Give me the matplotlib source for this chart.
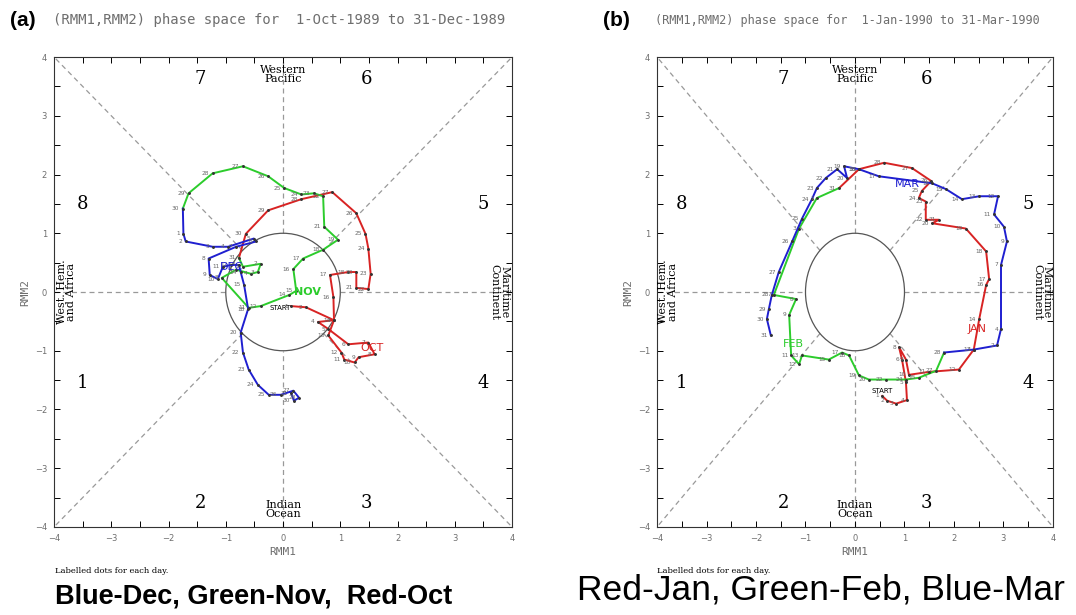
import matplotlib.pyplot as plt
import numpy as np
from matplotlib.patches import Ellipse

# ---- panel (a): Oct-Dec 1989 ----
oct_rmm1 = [0.14, 0.40, 0.89, 0.61, 0.79, 1.14, 1.49, 1.60, 1.32, 1.25, 1.07, 1.02, 0.79, 0.89,
            0.88, 0.82, 1.14, 1.28, 1.28, 1.49, 1.53, 1.49, 1.44, 1.28, 0.86, 0.32, -0.26, -0.65, -0.77]
oct_rmm2 = [-0.24, -0.26, -0.48, -0.51, -0.63, -0.89, -0.86, -1.06, -1.11, -1.20, -1.15, -1.03, -0.74, -0.48,
            -0.09, 0.29, 0.34, 0.34, 0.07, 0.05, 0.31, 0.74, 0.99, 1.34, 1.70, 1.58, 1.39, 0.99, 0.58]
oct_days = [1, 2, 3, 4, 5, 6, 7, 8, 9, 10, 11, 12, 13, 14, 16, 17, 18, 20, 21, 22, 23, 24, 25, 26,
            27, 28, 29, 30, 31]

nov_rmm1 = [-0.70, -0.39, -0.44, -0.56, -0.82, -1.07, -0.60, -0.39, 0.11, 0.23, 0.18, 0.35, 0.70, 0.96,
            0.72, 0.70, 0.54, 0.32, 0.02, -0.26, -0.70, -1.23, -1.65, -1.75]
nov_rmm2 = [0.43, 0.48, 0.34, 0.31, 0.38, 0.24, -0.27, -0.24, -0.05, 0.02, 0.39, 0.57, 0.72, 0.89,
            1.11, 1.63, 1.68, 1.66, 1.77, 1.97, 2.14, 2.02, 1.68, 1.42]
nov_days = [1, 2, 3, 4, 5, 8, 11, 12, 14, 15, 16, 17, 18, 19, 21, 22, 23, 24, 25, 26, 27, 28, 29, 30]

dec_rmm1 = [-1.74, -1.70, -1.23, -0.96, -0.51, -0.47, -0.82, -1.30, -1.28, -1.14, -1.05, -0.91, -0.77,
            -0.74, -0.68, -0.61, -0.74, -0.70, -0.60, -0.44, -0.25, -0.04, 0.18, 0.28, 0.19, 0.14]
dec_rmm2 = [0.99, 0.86, 0.77, 0.77, 0.91, 0.86, 0.77, 0.57, 0.29, 0.22, 0.43, 0.46, 0.46,
            0.34, 0.12, -0.29, -0.69, -1.03, -1.32, -1.58, -1.75, -1.75, -1.68, -1.80, -1.85, -1.72]
dec_days = [1, 2, 3, 4, 5, 6, 7, 8, 9, 10, 11, 12, 13, 14, 15, 18, 20, 22, 23, 24, 25, 26, 27, 28, 30, 31]

# ---- panel (b): Jan-Mar 1990 ----
jan_rmm1 = [0.55, 0.65, 0.83, 1.05, 1.03, 0.95, 0.89, 1.03, 1.09, 1.49, 2.10, 2.40, 2.51, 2.65,
            2.71, 2.65, 2.24, 1.56, 1.70, 1.43, 1.43, 1.29, 1.35, 1.54, 1.15, 0.59, 0.08, -0.32]
jan_rmm2 = [-1.77, -1.85, -1.90, -1.84, -1.54, -1.15, -0.94, -1.15, -1.41, -1.36, -1.32, -0.98, -0.46, 0.12,
            0.22, 0.69, 1.08, 1.17, 1.23, 1.23, 1.54, 1.60, 1.72, 1.89, 2.11, 2.20, 2.09, 1.77]
jan_days = [1, 2, 3, 4, 5, 6, 8, 9, 10, 11, 12, 13, 14, 16, 17, 18, 19, 20, 21, 22, 23, 24, 25, 26,
            27, 28, 30, 31]

feb_rmm1 = [-0.77, -1.13, -1.64, -1.19, -1.33, -1.29, -1.13, -1.07, -0.53, -0.26, -0.12, 0.08, 0.28,
            0.63, 1.03, 1.29, 1.64, 1.80]
feb_rmm2 = [1.60, 1.08, -0.05, -0.12, -0.39, -1.08, -1.23, -1.08, -1.15, -1.03, -1.08, -1.42, -1.49,
            -1.49, -1.49, -1.46, -1.34, -1.03]
feb_days = [1, 3, 7, 8, 9, 11, 12, 13, 15, 17, 18, 19, 20, 22, 24, 25, 27, 28]

mar_rmm1 = [2.40, 2.87, 2.95, 2.95, 3.07, 3.01, 2.81, 2.89, 2.51, 2.16, 1.84, 1.56, 0.48, 0.08,
            -0.22, -0.16, -0.36, -0.59, -0.77, -0.87, -1.07, -1.27, -1.54, -1.68, -1.74, -1.78, -1.70]
mar_rmm2 = [-0.98, -0.91, -0.63, 0.46, 0.86, 1.11, 1.32, 1.63, 1.63, 1.58, 1.75, 1.85, 1.97, 2.09,
            2.14, 1.94, 2.09, 1.94, 1.77, 1.58, 1.25, 0.86, 0.34, -0.05, -0.29, -0.46, -0.74]
mar_days = [1, 2, 4, 7, 9, 10, 11, 12, 13, 14, 15, 16, 17, 18, 19, 20, 21, 22, 23, 24, 25, 26, 27,
            28, 29, 30, 31]

RED = '#d82323'
GREEN = '#2ccc2c'
BLUE = '#1f1fd0'
GRAY = '#6e6e6e'


def draw_background(ax):
    # dashed phase dividers, stopping at the unit circle
    dk = dict(color='#999999', lw=0.9, ls=(0, (4, 3)), zorder=1)
    ax.plot([0, 0], [1, 4], **dk)
    ax.plot([0, 0], [-4, -1], **dk)
    ax.plot([1, 4], [0, 0], **dk)
    ax.plot([-4, -1], [0, 0], **dk)
    r = np.sqrt(0.5)
    for sx in (-1, 1):
        for sy in (-1, 1):
            ax.plot([sx * r, sx * 4], [sy * r, sy * 4], **dk)
    ax.add_patch(Ellipse((0, 0), 2, 2, fill=False, ec='#555555', lw=0.9, zorder=1))

    phase_pos = {'1': (-3.5, -1.55), '2': (-1.45, -3.6), '3': (1.45, -3.6), '4': (3.5, -1.55),
                 '5': (3.5, 1.5), '6': (1.45, 3.62), '7': (-1.45, 3.62), '8': (-3.5, 1.5)}
    for k, (x, y) in phase_pos.items():
        ax.text(x, y, k, ha='center', va='center', fontsize=13, family='DejaVu Serif')
    ax.text(0, 3.7, 'Western\nPacific', ha='center', va='center', fontsize=8,
            family='DejaVu Serif', linespacing=0.95)
    ax.text(0, -3.7, 'Indian\nOcean', ha='center', va='center', fontsize=8,
            family='DejaVu Serif', linespacing=0.95)
    ax.text(-3.78, 0, 'West. Hem.\nand Africa', ha='center', va='center', fontsize=8,
            family='DejaVu Serif', rotation=90, linespacing=0.95)
    ax.text(3.78, 0, 'Maritime\nContinent', ha='center', va='center', fontsize=8,
            family='DejaVu Serif', rotation=270, linespacing=0.95)

    ax.set_xlim(-4, 4)
    ax.set_ylim(-4, 4)
    ax.set_xticks(np.arange(-4, 5, 1))
    ax.set_yticks(np.arange(-4, 5, 1))
    ax.set_xticks(np.arange(-4, 4.01, 0.5), minor=True)
    ax.set_yticks(np.arange(-4, 4.01, 0.5), minor=True)
    ax.tick_params(which='both', direction='in', top=True, right=True, length=4, width=0.7,
                   labelsize=6, labelcolor=GRAY, pad=5)
    for s in ax.spines.values():
        s.set_linewidth(0.8)
        s.set_color('#333333')
    ax.set_xlabel('RMM1', fontsize=8, color=GRAY, family='DejaVu Sans Mono', labelpad=3)
    ax.set_ylabel('RMM2', fontsize=8, color=GRAY, family='DejaVu Sans Mono', labelpad=3)


def draw_month(ax, x, y, days, color, prev=None):
    xs = list(x)
    ys = list(y)
    if prev is not None:
        xs = [prev[0]] + xs
        ys = [prev[1]] + ys
    ax.plot(xs, ys, color=color, lw=1.4, zorder=3)
    ax.plot(x, y, 'o', color='#333333', ms=1.1, zorder=4)
    for xi, yi, d in zip(x, y, days):
        ax.text(xi - 0.06, yi, str(d), fontsize=4.2, color='#666666', ha='right', va='center', zorder=5)


fig = plt.figure(figsize=(10.76, 6.15), dpi=100)
ax1 = fig.add_axes([0.0502, 0.1431, 0.4257, 0.7642])
ax2 = fig.add_axes([0.6106, 0.1431, 0.3680, 0.7642])

# panel a
draw_background(ax1)
draw_month(ax1, oct_rmm1, oct_rmm2, oct_days, RED)
draw_month(ax1, nov_rmm1, nov_rmm2, nov_days, GREEN, prev=(oct_rmm1[-1], oct_rmm2[-1]))
draw_month(ax1, dec_rmm1, dec_rmm2, dec_days, BLUE, prev=(nov_rmm1[-1], nov_rmm2[-1]))
ax1.text(-0.05, -0.27, 'START', fontsize=5, ha='center', va='center', zorder=6)
ax1.text(1.55, -0.95, 'OCT', fontsize=8, color=RED, ha='center', va='center', zorder=6)
ax1.text(0.42, 0.0, 'NOV', fontsize=8, color=GREEN, ha='center', va='center', zorder=6, weight='bold')
ax1.text(-0.9, 0.43, 'DEC', fontsize=8, color=BLUE, ha='center', va='center', zorder=6)

# panel b
draw_background(ax2)
draw_month(ax2, jan_rmm1, jan_rmm2, jan_days, RED)
draw_month(ax2, feb_rmm1, feb_rmm2, feb_days, GREEN, prev=(jan_rmm1[-1], jan_rmm2[-1]))
draw_month(ax2, mar_rmm1, mar_rmm2, mar_days, BLUE, prev=(feb_rmm1[-1], feb_rmm2[-1]))
ax2.text(0.55, -1.68, 'START', fontsize=5, ha='center', va='center', zorder=6)
ax2.text(2.47, -0.63, 'JAN', fontsize=8, color=RED, ha='center', va='center', zorder=6)
ax2.text(-1.25, -0.89, 'FEB', fontsize=8, color=GREEN, ha='center', va='center', zorder=6)
ax2.text(1.05, 1.84, 'MAR', fontsize=8, color=BLUE, ha='center', va='center', zorder=6)

# titles and panel letters
fig.text(0.009, 0.967, '(a)', fontsize=15, weight='bold', va='center', family='Liberation Sans')
fig.text(0.049, 0.967, '(RMM1,RMM2) phase space for  1-Oct-1989 to 31-Dec-1989', fontsize=10,
         color=GRAY, va='center', family='DejaVu Sans Mono')
fig.text(0.560, 0.967, '(b)', fontsize=15, weight='bold', va='center', family='Liberation Sans')
fig.text(0.609, 0.967, '(RMM1,RMM2) phase space for  1-Jan-1990 to 31-Mar-1990', fontsize=8.5,
         color=GRAY, va='center', family='DejaVu Sans Mono')

fig.text(0.051, 0.072, 'Labelled dots for each day.', fontsize=6, family='DejaVu Serif', va='center')
fig.text(0.611, 0.072, 'Labelled dots for each day.', fontsize=6, family='DejaVu Serif', va='center')

fig.text(0.051, 0.030, 'Blue-Dec, Green-Nov,  Red-Oct', fontsize=19.5, weight='bold',
         ha='left', va='center', family='Liberation Sans')
fig.text(0.536, 0.040, 'Red-Jan, Green-Feb, Blue-Mar', fontsize=25.5, ha='left', va='center',
         family='Liberation Sans')

fig.savefig('out.png', dpi=100)
